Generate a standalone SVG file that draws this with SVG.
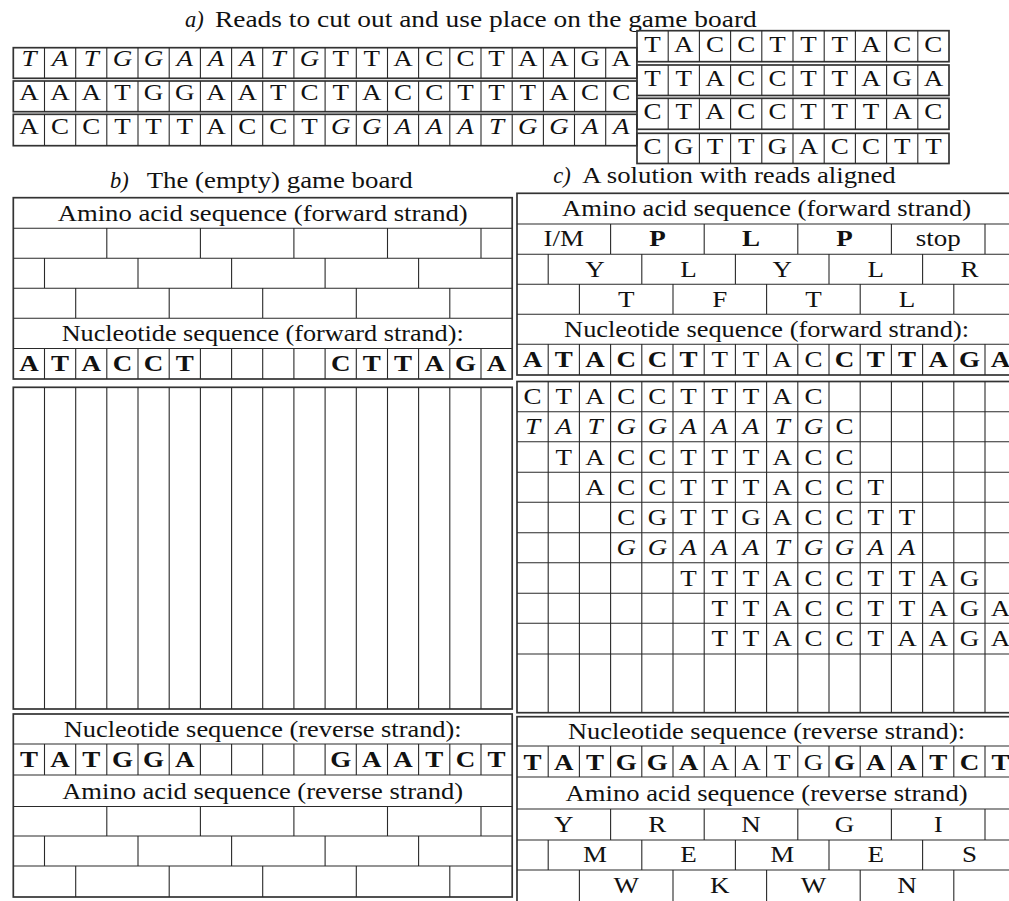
<svg xmlns="http://www.w3.org/2000/svg" width="1009" height="901" viewBox="0 0 1009 901">
<style>
.ln{stroke:#2a2a2a;stroke-width:1.1;fill:none}
.bd{stroke:#333;stroke-width:1.7;fill:none}
text{font-family:"Liberation Serif","Times New Roman",serif;font-size:23.5px;fill:#111}
.h{font-size:22.5px}
.c{text-anchor:middle}
.i{font-style:italic}
.b{font-weight:bold}
</style>
<rect width="1009" height="901" fill="#fff"/>

<g id="titles">
<text class="h i" x="185" y="27">a)</text>
<text class="h" x="215" y="27" textLength="541.7" lengthAdjust="spacingAndGlyphs">Reads to cut out and use place on the game board</text>
<text class="h i" x="110" y="188.3">b)</text>
<text class="h" x="146.7" y="188.3" textLength="266" lengthAdjust="spacingAndGlyphs">The (empty) game board</text>
<text class="h i" x="553.3" y="183.3">c)</text>
<text class="h" x="582.3" y="183.3" textLength="313.4" lengthAdjust="spacingAndGlyphs">A solution with reads aligned</text>
</g>

<g id="read-1">
<rect class="bd" x="13.3" y="47.7" width="623.6" height="30.6"/>
<path class="ln" d="M44.5 47.7V78.3M75.7 47.7V78.3M106.8 47.7V78.3M138 47.7V78.3M169.2 47.7V78.3M200.4 47.7V78.3M231.6 47.7V78.3M262.7 47.7V78.3M293.9 47.7V78.3M325.1 47.7V78.3M356.3 47.7V78.3M387.5 47.7V78.3M418.6 47.7V78.3M449.8 47.7V78.3M481 47.7V78.3M512.2 47.7V78.3M543.4 47.7V78.3M574.5 47.7V78.3M605.7 47.7V78.3"/>
<g transform="scale(1.15 1)">
<text class="c i" x="25.13 52.24 79.36 106.47 133.58 160.7 187.81 214.92 242.03 269.15" y="66">TATGGAAATG</text>
<text class="c" x="296.26 323.37 350.49 377.6 404.71 431.83 458.94 486.05 513.16 540.28" y="66">TTACCTAAGA</text>
</g>
</g>
<g id="read-2">
<rect class="bd" x="13.3" y="81" width="623.6" height="30.7"/>
<path class="ln" d="M44.5 81V111.7M75.7 81V111.7M106.8 81V111.7M138 81V111.7M169.2 81V111.7M200.4 81V111.7M231.6 81V111.7M262.7 81V111.7M293.9 81V111.7M325.1 81V111.7M356.3 81V111.7M387.5 81V111.7M418.6 81V111.7M449.8 81V111.7M481 81V111.7M512.2 81V111.7M543.4 81V111.7M574.5 81V111.7M605.7 81V111.7"/>
<g transform="scale(1.15 1)">
<text class="c" x="25.13 52.24 79.36 106.47 133.58 160.7 187.81 214.92 242.03 269.15 296.26 323.37 350.49 377.6 404.71 431.83 458.94 486.05 513.16 540.28" y="100.5">AAATGGAATCTACCTTTACC</text>
</g>
</g>
<g id="read-3">
<rect class="bd" x="13.3" y="114.3" width="623.6" height="31.4"/>
<path class="ln" d="M44.5 114.3V145.7M75.7 114.3V145.7M106.8 114.3V145.7M138 114.3V145.7M169.2 114.3V145.7M200.4 114.3V145.7M231.6 114.3V145.7M262.7 114.3V145.7M293.9 114.3V145.7M325.1 114.3V145.7M356.3 114.3V145.7M387.5 114.3V145.7M418.6 114.3V145.7M449.8 114.3V145.7M481 114.3V145.7M512.2 114.3V145.7M543.4 114.3V145.7M574.5 114.3V145.7M605.7 114.3V145.7"/>
<g transform="scale(1.15 1)">
<text class="c" x="25.13 52.24 79.36 106.47 133.58 160.7 187.81 214.92 242.03 269.15" y="134">ACCTTTACCT</text>
<text class="c i" x="296.26 323.37 350.49 377.6 404.71 431.83 458.94 486.05 513.16 540.28" y="134">GGAAATGGAA</text>
</g>
</g>
<g id="read-4">
<rect class="bd" x="637" y="30.7" width="312" height="31"/>
<path class="ln" d="M668.2 30.7V61.7M699.4 30.7V61.7M730.6 30.7V61.7M761.8 30.7V61.7M793 30.7V61.7M824.2 30.7V61.7M855.4 30.7V61.7M886.6 30.7V61.7M917.8 30.7V61.7"/>
<text class="c" transform="scale(1.15 1)" x="567.48 594.61 621.74 648.87 676 703.13 730.26 757.39 784.52 811.65" y="52">TACCTTTACC</text>
</g>
<g id="read-5">
<rect class="bd" x="637" y="65" width="312" height="30.5"/>
<path class="ln" d="M668.2 65V95.5M699.4 65V95.5M730.6 65V95.5M761.8 65V95.5M793 65V95.5M824.2 65V95.5M855.4 65V95.5M886.6 65V95.5M917.8 65V95.5"/>
<text class="c" transform="scale(1.15 1)" x="567.48 594.61 621.74 648.87 676 703.13 730.26 757.39 784.52 811.65" y="86">TTACCTTAGA</text>
</g>
<g id="read-6">
<rect class="bd" x="637" y="98.3" width="312" height="31"/>
<path class="ln" d="M668.2 98.3V129.3M699.4 98.3V129.3M730.6 98.3V129.3M761.8 98.3V129.3M793 98.3V129.3M824.2 98.3V129.3M855.4 98.3V129.3M886.6 98.3V129.3M917.8 98.3V129.3"/>
<text class="c" transform="scale(1.15 1)" x="567.48 594.61 621.74 648.87 676 703.13 730.26 757.39 784.52 811.65" y="119.5">CTACCTTTAC</text>
</g>
<g id="read-7">
<rect class="bd" x="637" y="133.3" width="312" height="30.2"/>
<path class="ln" d="M668.2 133.3V163.5M699.4 133.3V163.5M730.6 133.3V163.5M761.8 133.3V163.5M793 133.3V163.5M824.2 133.3V163.5M855.4 133.3V163.5M886.6 133.3V163.5M917.8 133.3V163.5"/>
<text class="c" transform="scale(1.15 1)" x="567.48 594.61 621.74 648.87 676 703.13 730.26 757.39 784.52 811.65" y="154">CGTTGACCTT</text>
</g>

<g id="b-forward">
<rect class="bd" x="13.3" y="197.7" width="498.9" height="181.3"/>
<path class="ln" d="M13.3 228.3H512.2M13.3 258.3H512.2M13.3 288.3H512.2M13.3 318.3H512.2M13.3 348.5H512.2
M106.8 228.3V258.3M200.4 228.3V258.3M293.9 228.3V258.3M387.5 228.3V258.3M481 228.3V258.3
M44.5 258.3V288.3M138 258.3V288.3M231.6 258.3V288.3M325.1 258.3V288.3M418.6 258.3V288.3
M75.7 288.3V318.3M169.2 288.3V318.3M262.7 288.3V318.3M356.3 288.3V318.3M449.8 288.3V318.3
M44.5 348.5V379M75.7 348.5V379M106.8 348.5V379M138 348.5V379M169.2 348.5V379M200.4 348.5V379M231.6 348.5V379M262.7 348.5V379M293.9 348.5V379M325.1 348.5V379M356.3 348.5V379M387.5 348.5V379M418.6 348.5V379M449.8 348.5V379M481 348.5V379"/>
<text class="c h" x="262.7" y="220.5" textLength="410" lengthAdjust="spacingAndGlyphs">Amino acid sequence (forward strand)</text>
<text class="c h" x="262.7" y="341" textLength="402" lengthAdjust="spacingAndGlyphs">Nucleotide sequence (forward strand):</text>
<g transform="scale(1.15 1)">
<text class="c b" x="25.13 52.24 79.36 106.47 133.58 160.7" y="371.5">ATACCT</text>
<text class="c b" x="296.26 323.37 350.49 377.6 404.71 431.83" y="371.5">CTTAGA</text>
</g>
</g>

<g id="b-grid">
<rect class="bd" x="13.3" y="387.3" width="498.9" height="321.7"/>
<path class="ln" d="M44.5 387.3V709M75.7 387.3V709M106.8 387.3V709M138 387.3V709M169.2 387.3V709M200.4 387.3V709M231.6 387.3V709M262.7 387.3V709M293.9 387.3V709M325.1 387.3V709M356.3 387.3V709M387.5 387.3V709M418.6 387.3V709M449.8 387.3V709M481 387.3V709"/>
</g>

<g id="b-reverse">
<rect class="bd" x="13.3" y="714" width="498.9" height="183"/>
<path class="ln" d="M13.3 744H512.2M13.3 775H512.2M13.3 806.5H512.2M13.3 836H512.2M13.3 866H512.2
M44.5 744V775M75.7 744V775M106.8 744V775M138 744V775M169.2 744V775M200.4 744V775M231.6 744V775M262.7 744V775M293.9 744V775M325.1 744V775M356.3 744V775M387.5 744V775M418.6 744V775M449.8 744V775M481 744V775
M106.8 806.5V836M200.4 806.5V836M293.9 806.5V836M387.5 806.5V836M481 806.5V836
M44.5 836V866M138 836V866M231.6 836V866M325.1 836V866M418.6 836V866
M75.7 866V897M169.2 866V897M262.7 866V897M356.3 866V897M449.8 866V897"/>
<text class="c h" x="262.7" y="736.5" textLength="398" lengthAdjust="spacingAndGlyphs">Nucleotide sequence (reverse strand):</text>
<g transform="scale(1.15 1)">
<text class="c b" x="25.13 52.24 79.36 106.47 133.58 160.7" y="767.5">TATGGA</text>
<text class="c b" x="296.26 323.37 350.49 377.6 404.71 431.83" y="767.5">GAATCT</text>
</g>
<text class="c h" x="262.7" y="798.5" textLength="401" lengthAdjust="spacingAndGlyphs">Amino acid sequence (reverse strand)</text>
</g>

<g id="c-forward">
<rect class="bd" x="517" y="193.3" width="499.2" height="181.7"/>
<path class="ln" d="M517 224H1016M517 254.3H1016M517 284.3H1016M517 314.3H1016M517 344.3H1016
M610.6 224V254.3M704.2 224V254.3M797.8 224V254.3M891.4 224V254.3M985 224V254.3
M548.2 254.3V284.3M641.8 254.3V284.3M735.4 254.3V284.3M829 254.3V284.3M922.6 254.3V284.3
M579.4 284.3V314.3M673 284.3V314.3M766.6 284.3V314.3M860.2 284.3V314.3M953.8 284.3V314.3
M548.2 344.3V375M579.4 344.3V375M610.6 344.3V375M641.8 344.3V375M673 344.3V375M704.2 344.3V375M735.4 344.3V375M766.6 344.3V375M797.8 344.3V375M829 344.3V375M860.2 344.3V375M891.4 344.3V375M922.6 344.3V375M953.8 344.3V375M985 344.3V375"/>
<text class="c h" x="766.6" y="216" textLength="409" lengthAdjust="spacingAndGlyphs">Amino acid sequence (forward strand)</text>
<text class="c h" x="766.6" y="337" textLength="405" lengthAdjust="spacingAndGlyphs">Nucleotide sequence (forward strand):</text>
<g transform="scale(1.15 1)">
<text class="c" x="490.26" y="246.5">I/M</text>
<text class="c b" x="571.65 653.04 734.43" y="246.5">PLP</text>
<text class="c" x="815.83" y="246.5">stop</text>
<text class="c" x="517.39 598.78 680.17 761.57 842.96" y="277">YLYLR</text>
<text class="c" x="544.52 625.91 707.3 788.7" y="307">TFTL</text>
<text class="c b" x="463.13 490.26 517.39 544.52 571.65 598.78" y="367.5">ATACCT</text>
<text class="c" x="625.91 653.04 680.17 707.3" y="367.5">TTAC</text>
<text class="c b" x="734.43 761.57 788.7 815.83 842.96 870.09" y="367.5">CTTAGA</text>
</g>
</g>

<g id="c-grid">
<rect class="bd" x="517" y="381.5" width="499.2" height="331.2"/>
<path class="ln" d="M517 411.7H1016M517 441.7H1016M517 472.3H1016M517 502.3H1016M517 532.7H1016M517 562.7H1016M517 593.3H1016M517 623.3H1016M517 654H1016
M548.2 381.5V712.7M579.4 381.5V712.7M610.6 381.5V712.7M641.8 381.5V712.7M673 381.5V712.7M704.2 381.5V712.7M735.4 381.5V712.7M766.6 381.5V712.7M797.8 381.5V712.7M829 381.5V712.7M860.2 381.5V712.7M891.4 381.5V712.7M922.6 381.5V712.7M953.8 381.5V712.7M985 381.5V712.7"/>
<g transform="scale(1.15 1)">
<text class="c" x="463.13 490.26 517.39 544.52 571.65 598.78 625.91 653.04 680.17 707.3" y="404.4">CTACCTTTAC</text>
<text class="c i" x="463.13 490.26 517.39 544.52 571.65 598.78 625.91 653.04 680.17 707.3" y="434.5">TATGGAAATG</text>
<text class="c" x="734.43" y="434.5">C</text>
<text class="c" x="490.26 517.39 544.52 571.65 598.78 625.91 653.04 680.17 707.3 734.43" y="464.8">TACCTTTACC</text>
<text class="c" x="517.39 544.52 571.65 598.78 625.91 653.04 680.17 707.3 734.43 761.57" y="495.1">ACCTTTACCT</text>
<text class="c" x="544.52 571.65 598.78 625.91 653.04 680.17 707.3 734.43 761.57 788.7" y="525.3">CGTTGACCTT</text>
<text class="c i" x="544.52 571.65 598.78 625.91 653.04 680.17 707.3 734.43 761.57 788.7" y="555.5">GGAAATGGAA</text>
<text class="c" x="598.78 625.91 653.04 680.17 707.3 734.43 761.57 788.7 815.83 842.96" y="585.8">TTTACCTTAG</text>
<text class="c" x="625.91 653.04 680.17 707.3 734.43 761.57 788.7 815.83 842.96 870.09" y="616.1">TTACCTTAGA</text>
<text class="c" x="625.91 653.04 680.17 707.3 734.43 761.57 788.7 815.83 842.96 870.09" y="646.5">TTACCTAAGA</text>
</g>
</g>

<g id="c-reverse">
<rect class="bd" x="517" y="716.7" width="499.2" height="186"/>
<path class="ln" d="M517 746H1016M517 777H1016M517 809H1016M517 840H1016M517 870H1016
M548.2 746V777M579.4 746V777M610.6 746V777M641.8 746V777M673 746V777M704.2 746V777M735.4 746V777M766.6 746V777M797.8 746V777M829 746V777M860.2 746V777M891.4 746V777M922.6 746V777M953.8 746V777M985 746V777
M610.6 809V840M704.2 809V840M797.8 809V840M891.4 809V840M985 809V840
M548.2 840V870M641.8 840V870M735.4 840V870M829 840V870M922.6 840V870
M579.4 870V901M673 870V901M766.6 870V901M860.2 870V901M953.8 870V901"/>
<text class="c h" x="766.6" y="739" textLength="397" lengthAdjust="spacingAndGlyphs">Nucleotide sequence (reverse strand):</text>
<text class="c h" x="766.6" y="801" textLength="402" lengthAdjust="spacingAndGlyphs">Amino acid sequence (reverse strand)</text>
<g transform="scale(1.15 1)">
<text class="c b" x="463.13 490.26 517.39 544.52 571.65 598.78" y="770">TATGGA</text>
<text class="c" x="625.91 653.04 680.17 707.3" y="770">AATG</text>
<text class="c b" x="734.43 761.57 788.7 815.83 842.96 870.09" y="770">GAATCT</text>
<text class="c" x="490.26 571.65 653.04 734.43 815.83" y="832">YRNGI</text>
<text class="c" x="517.39 598.78 680.17 761.57 842.96" y="862.5">MEMES</text>
<text class="c" x="544.52 625.91 707.3 788.7" y="893">WKWN</text>
</g>
</g>
</svg>
